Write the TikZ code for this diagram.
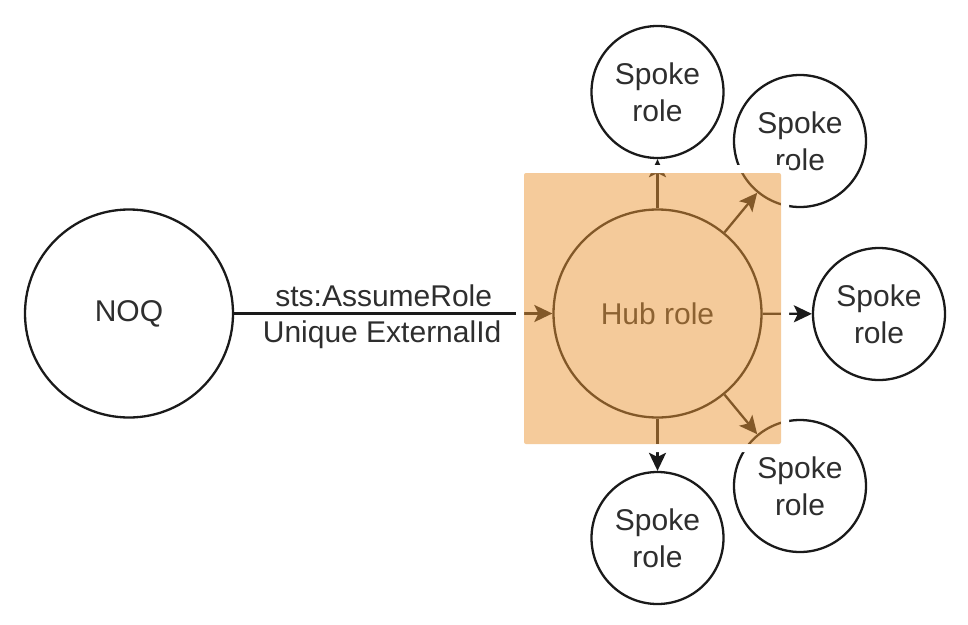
\documentclass[tikz,border=0pt]{standalone}
\usepackage{fontspec}
\setmainfont{Liberation Sans}
\usetikzlibrary{arrows.meta}
\definecolor{txt}{HTML}{2E2E2E}
\definecolor{edge}{HTML}{1A1A1A}
\definecolor{hl}{RGB}{235,151,55}
\begin{document}
\begin{tikzpicture}[x=1pt,y=-1pt,
  role/.style={circle, draw=edge, line width=2.3pt, fill=white, inner sep=0pt,
    text=txt, font=\fontsize{30}{37}\selectfont, align=center},
  bigrole/.style={role, minimum size=208pt},
  spoke/.style={role, minimum size=132pt},
  conn/.style={line width=2.3pt, draw=edge, -{Stealth[length=18pt,width=17pt,inset=4pt]}},
  lbl/.style={text=txt, font=\fontsize{30}{36}\selectfont, inner sep=0pt, anchor=base}]
\useasboundingbox (0,0) rectangle (968,624);
% nodes
\node[bigrole] (noq) at (129,313.5) {NOQ};
\node[bigrole] (hub) at (657.5,313.5) {Hub role};
\node[spoke] (s1) at (657.5,92) {Spoke\\role};
\node[spoke] (s2) at (800,141) {Spoke\\role};
\node[spoke] (s3) at (879,314) {Spoke\\role};
\node[spoke] (s4) at (800,486) {Spoke\\role};
\node[spoke] (s5) at (657.5,538) {Spoke\\role};
% connectors
\draw[conn] (noq) -- node[lbl, pos=0.47, yshift=7pt] (l1) {sts:AssumeRole}
  node[lbl, pos=0.465, yshift=-29pt] (l2) {Unique ExternalId} (hub);
\draw[conn] (hub) -- (s1);
\draw[conn] (hub) -- (s2);
\draw[conn] (hub) -- (s3);
\draw[conn] (hub) -- (s4);
\draw[conn] (hub) -- (s5);
% pasted highlight with white margin
\fill[white, even odd rule] (516,165) rectangle (789,452) (524,173) rectangle (781,444);
\fill[hl, fill opacity=0.5, rounded corners=2pt] (524,173) rectangle (781,444);
\end{tikzpicture}
\end{document}
